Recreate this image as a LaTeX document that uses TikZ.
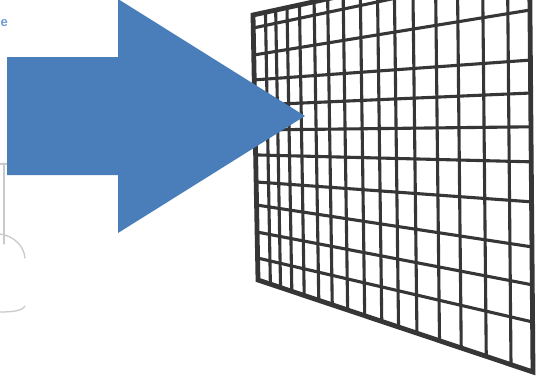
\documentclass[tikz,border=0pt]{standalone}
\usepackage{fontspec}
\setmainfont{Liberation Sans}
\usetikzlibrary{calc}
\definecolor{arrowblue}{RGB}{74,126,187}
\definecolor{gridgray}{RGB}{54,54,54}
\definecolor{faintgray}{RGB}{202,202,202}
\definecolor{fadedblue}{RGB}{110,155,210}

\begin{document}
\begin{tikzpicture}[x=1pt,y=-1pt,
  frame/.style={line width=4.8pt,gridgray,line join=miter},
  bar/.style={line width=3.1pt,gridgray},
  sketch/.style={line width=1.3pt,faintgray,line cap=round}]
  % Canvas
  \fill[white] (0,0) rectangle (538,375);
  \useasboundingbox (0,0) rectangle (538,375);

  % Faint sketch at the left
  \node[anchor=west,inner sep=0pt,fadedblue,font=\fontsize{13}{13}\selectfont\bfseries] (cut) at (0.5,23) {e};
  \draw[sketch] (4,163) -- (4,244);
  \draw[sketch] (0,164) -- (7,164);
  \draw[sketch] (0,234) .. controls (14,236) and (24,246) .. (25,258);
  \draw[sketch] (0,312) .. controls (12,312) and (22,311) .. (25,306);

  % Grid corners
  \coordinate (TL) at (253,15);
  \coordinate (TR) at (529.5,-45);
  \coordinate (BL) at (258,280);
  \coordinate (BR) at (533,372);

  % Vertical bars
  \foreach \t in {0.045,0.082,0.123,0.168,0.221,0.27,0.326,0.388,0.45,0.511,0.578,0.66,0.739,0.83,0.92}
    \draw[bar] ($(TL)!\t!(TR)$) -- ($(BL)!\t!(BR)$);

  % Horizontal bars (left / right fraction)
  \foreach \l/\r in {0.049/0.036,0.151/0.132,0.245/0.252,0.34/0.331,0.434/0.412,
                     0.528/0.496,0.63/0.592,0.717/0.7,0.819/0.791,0.917/0.88}
    \draw[bar] ($(TL)!\l!(BL)$) -- ($(TR)!\r!(BR)$);

  % Frame
  \draw[frame] (TL) -- (TR) -- (BR) -- (BL) -- cycle;

  % Big arrow
  \fill[arrowblue] (7,57) -- (118,57) -- (118,-1) -- (305,116)
    -- (118,233) -- (118,175) -- (7,175) -- cycle;
\end{tikzpicture}
\end{document}
